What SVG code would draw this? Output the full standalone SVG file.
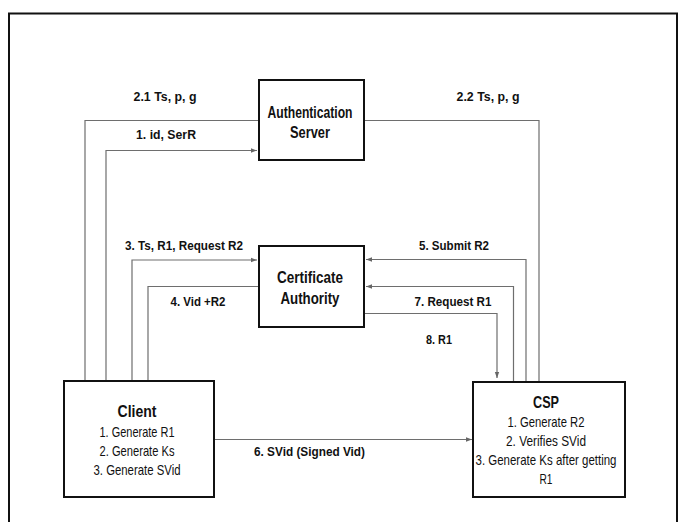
<svg xmlns="http://www.w3.org/2000/svg" width="686" height="522" viewBox="0 0 686 522">
<defs>
<marker id="arr" viewBox="0 0 6 6" refX="6" refY="3" markerWidth="6" markerHeight="6" markerUnits="userSpaceOnUse" orient="auto">
<path d="M0,0.8 L6,3 L0,5.2 z" fill="#666"/>
</marker>
<style>
text{font-family:"Liberation Sans Narrow","Liberation Sans",Arial,sans-serif;fill:#111;text-anchor:middle}
.lbl{font-size:13.5px;font-weight:bold}
.ttl{font-size:17px;font-weight:bold}
.body{font-size:15px}
.box{fill:#fff;stroke:#111;stroke-width:2}
.c{fill:none;stroke:#6e6e6e;stroke-width:1.2}
.ca{fill:none;stroke:#6e6e6e;stroke-width:1.2;marker-end:url(#arr)}
</style>
</defs>
<rect x="9" y="13.5" width="668" height="530" fill="#fff" stroke="#111" stroke-width="2"/>
<g id="connectors">
<polyline class="c" points="85,381 85,120.5 259,120.5"/>
<polyline class="ca" points="106,381 106,150.5 257,150.5"/>
<polyline class="c" points="364,120.5 539,120.5 539,382"/>
<polyline class="ca" points="132,381 132,260 257,260"/>
<polyline class="c" points="259,286.5 148,286.5 148,381"/>
<polyline class="ca" points="526,382 526,259.5 366,259.5"/>
<polyline class="ca" points="513.5,382 513.5,286.5 366,286.5"/>
<polyline class="ca" points="364,313.5 497,313.5 497,378"/>
<polyline class="ca" points="214,439.5 472,439.5"/>
<text class="lbl" x="165" y="101" textLength="63" lengthAdjust="spacingAndGlyphs">2.1 Ts, p, g</text>
<text class="lbl" x="166" y="139" textLength="60" lengthAdjust="spacingAndGlyphs">1. id, SerR</text>
<text class="lbl" x="488" y="101" textLength="63" lengthAdjust="spacingAndGlyphs">2.2 Ts, p, g</text>
<text class="lbl" x="184" y="250" textLength="118" lengthAdjust="spacingAndGlyphs">3. Ts, R1, Request R2</text>
<text class="lbl" x="198" y="306" textLength="55" lengthAdjust="spacingAndGlyphs">4. Vid +R2</text>
<text class="lbl" x="454" y="250" textLength="70" lengthAdjust="spacingAndGlyphs">5. Submit R2</text>
<text class="lbl" x="453" y="306" textLength="77" lengthAdjust="spacingAndGlyphs">7. Request R1</text>
<text class="lbl" x="439" y="344" textLength="26" lengthAdjust="spacingAndGlyphs">8. R1</text>
<text class="lbl" x="309.5" y="456" textLength="111" lengthAdjust="spacingAndGlyphs">6. SVid (Signed Vid)</text>
</g>
<g id="auth">
<rect class="box" x="259" y="80" width="105" height="80"/>
<text class="ttl" x="310" y="118" textLength="85" lengthAdjust="spacingAndGlyphs">Authentication</text>
<text class="ttl" x="310" y="138" textLength="40" lengthAdjust="spacingAndGlyphs">Server</text>
</g>
<g id="ca">
<rect class="box" x="259" y="246" width="105" height="81"/>
<text class="ttl" x="310" y="283" textLength="66" lengthAdjust="spacingAndGlyphs">Certificate</text>
<text class="ttl" x="310" y="304" textLength="59" lengthAdjust="spacingAndGlyphs">Authority</text>
</g>
<g id="client">
<rect class="box" x="64" y="381" width="150" height="116"/>
<text class="ttl" x="137" y="417" textLength="39" lengthAdjust="spacingAndGlyphs">Client</text>
<text class="body" x="137" y="437" textLength="75" lengthAdjust="spacingAndGlyphs">1. Generate R1</text>
<text class="body" x="137" y="456" textLength="75" lengthAdjust="spacingAndGlyphs">2. Generate Ks</text>
<text class="body" x="137" y="475" textLength="87" lengthAdjust="spacingAndGlyphs">3. Generate SVid</text>
</g>
<g id="csp">
<rect class="box" x="473" y="382" width="152" height="115"/>
<text class="ttl" x="546" y="408" textLength="26" lengthAdjust="spacingAndGlyphs">CSP</text>
<text class="body" x="546" y="427" textLength="77" lengthAdjust="spacingAndGlyphs">1. Generate R2</text>
<text class="body" x="546" y="446" textLength="80" lengthAdjust="spacingAndGlyphs">2. Verifies SVid</text>
<text class="body" x="546" y="465" textLength="141" lengthAdjust="spacingAndGlyphs">3. Generate Ks after getting</text>
<text class="body" x="546" y="484" textLength="13" lengthAdjust="spacingAndGlyphs">R1</text>
</g>
</svg>
